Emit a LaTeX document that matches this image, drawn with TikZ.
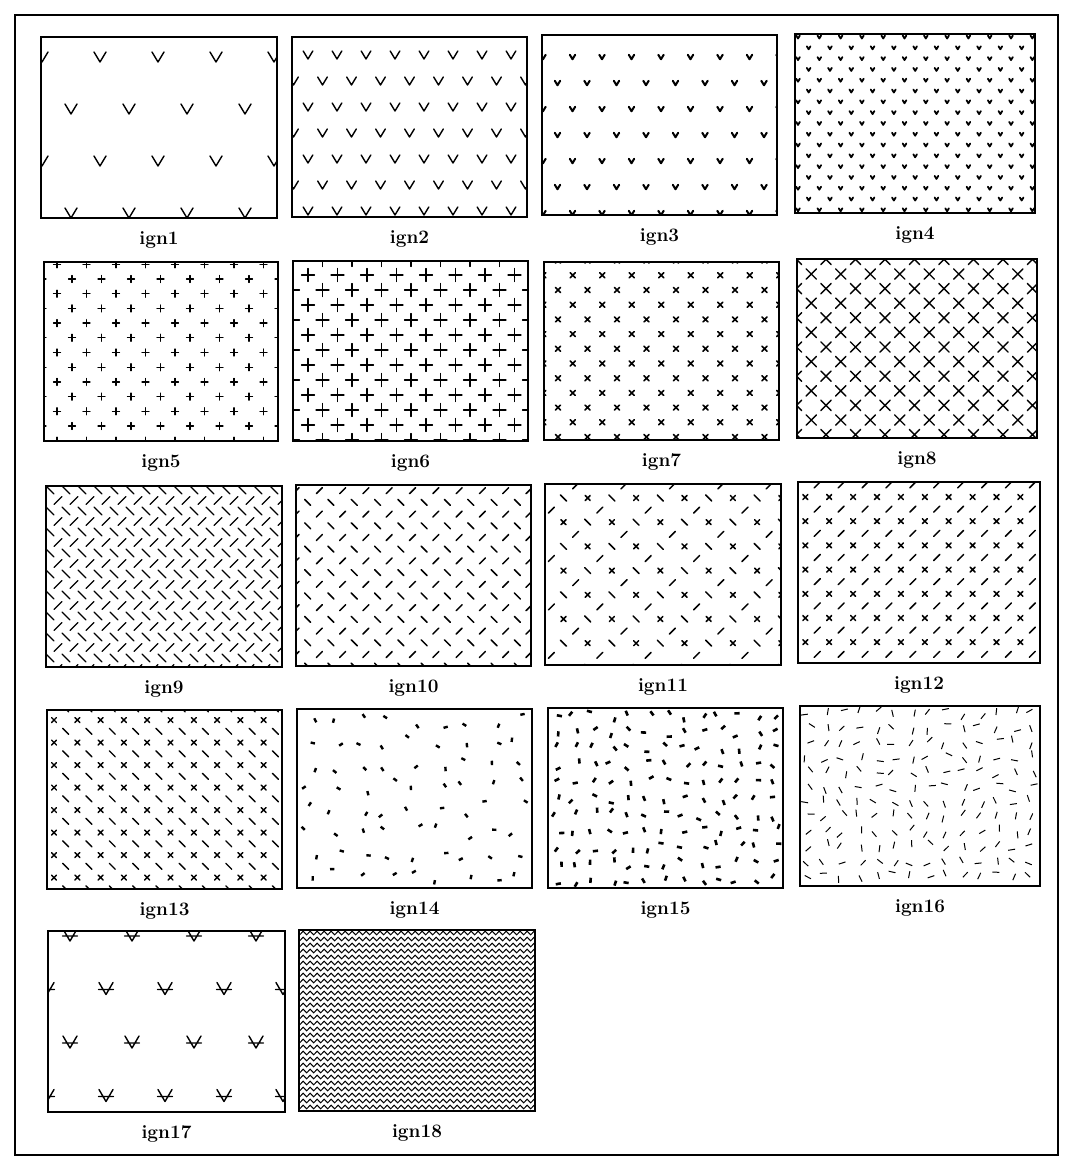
\documentclass[tikz,border=0pt]{standalone}
\usepackage{fontspec}
\usepackage{tikz}
\usetikzlibrary{positioning,decorations.pathmorphing}
\tikzset{
  patbox/.style={draw=black, line width=1.5pt, inner sep=0pt, outer sep=0pt},
  patlab/.style={font=\fontsize{19}{22}\selectfont\bfseries, inner sep=0pt},
  patmark/.style={line cap=round, line join=round},
  vee/.pic={\draw[patmark] (-6,-5) -- (0,5) -- (6,-5);},
  veebar/.pic={\draw[patmark] (-7,-6) -- (0,6) -- (7,-6) (-7.5,1) -- (7.5,1);},
  plus/.pic={\draw[patmark] (-1,0) -- (1,0) (0,-1) -- (0,1);},
  cross/.pic={\draw[patmark] (-1,-1) -- (1,1) (-1,1) -- (1,-1);},
  bsl/.pic={\draw[patmark] (-1,-1) -- (1,1);},
  fsl/.pic={\draw[patmark] (-1,1) -- (1,-1);},
}

\begin{document}
\begin{tikzpicture}[x=1pt,y=-1pt]
\useasboundingbox (0,0) rectangle (1072,1167);
\draw[line width=1.3pt] (15,15) rectangle (1058,1155);
% panels and their labels
\foreach \n/\xa/\ya/\xb/\yb in {1/41/37/277/218, 2/292/37/527/217, 3/542/35/777/215, 4/795/34/1035/213,
  5/44/262/278/441, 6/293/261/528/441, 7/544/262/779/440, 8/797/259/1037/438,
  9/46/486/282/667, 10/296/485/531/666, 11/545/484/781/665, 12/798/482/1040/663,
  13/47/710/282/889, 14/297/709/532/888, 15/548/708/783/888, 16/800/706/1040/886,
  17/48/931/285/1112, 18/299/930/535/1111}
{
  \node[patbox, minimum width={(\xb-\xa)*1pt}, minimum height={(\yb-\ya)*1pt}]
    (p\n) at ({(\xa+\xb)/2},{(\ya+\yb)/2}) {};
  \node[patlab, below=13pt of p\n] (l\n) {ign\n};
}
% ign1
\begin{scope}[shift={(p1.north west)}, line width=1.4pt]
\clip (p1.south west) rectangle (p1.north east);
\foreach \j in {0,...,3} \foreach \i in {0,...,4}
  \pic at ({1+29*mod(\j,2)+58*\i},{20+52*\j}) {vee};
\end{scope}
% ign2
\begin{scope}[shift={(p2.north west)}, line width=1.4pt]
\clip (p2.south west) rectangle (p2.north east);
\foreach \j in {0,...,6} \foreach \i in {0,...,8}
  \pic[scale=0.8] at ({16-14.5*mod(\j,2)+29*\i},{18+26*\j}) {vee};
\end{scope}
% ign3
\begin{scope}[shift={(p3.north west)}, line width=2pt]
\clip (p3.south west) rectangle (p3.north east);
\foreach \j in {0,...,6} \foreach \i in {0,...,8}
  \pic[scale=0.45] at ({1+14.5*mod(\j,2)+29.5*\i},{22+26*\j}) {vee};
\end{scope}
% ign4
\begin{scope}[shift={(p4.north west)}, line width=1.8pt]
\clip (p4.south west) rectangle (p4.north east);
\foreach \j in {0,...,16} \foreach \i in {0,...,11}
  \pic[scale=0.3] at ({3+10.65*mod(\j,2)+21.3*\i},{3+10.8*\j}) {vee};
\end{scope}
% ign5
\begin{scope}[shift={(p5.north west)}, line width=1.3pt]
\clip (p5.south west) rectangle (p5.north east);
\foreach \k in {0,...,12} \foreach \i in {0,...,8}
  \pic[scale=3.5] at ({13-14.5*mod(\k,2)+29.5*\i},{2.3+14.7*\k}) {plus};
\end{scope}
% ign6
\begin{scope}[shift={(p6.north west)}, line width=1.3pt]
\clip (p6.south west) rectangle (p6.north east);
\foreach \k in {0,...,12} \foreach \i in {0,...,8}
  \pic[scale=6.5] at ({15*mod(\k,2)+29.5*\i},{-1+15*\k}) {plus};
\end{scope}
% ign7
\begin{scope}[shift={(p7.north west)}, line width=1.6pt]
\clip (p7.south west) rectangle (p7.north east);
\foreach \k in {0,...,12} \foreach \i in {0,...,8}
  \pic[scale=2.5] at ({14-14.75*mod(\k,2)+29.5*\i},{-1.4+14.7*\k}) {cross};
\end{scope}
% ign8
\begin{scope}[shift={(p8.north west)}, line width=1.4pt]
\clip (p8.south west) rectangle (p8.north east);
\foreach \k in {0,...,12} \foreach \i in {0,...,8}
  \pic[scale=5.2] at ({-0.5+14.75*mod(\k,2)+29.5*\i},{0.4+14.6*\k}) {cross};
\end{scope}
% ign9
\begin{scope}[shift={(p9.north west)}, line width=1.3pt]
\clip (p9.south west) rectangle (p9.north east);
\foreach \j in {0,2,...,16} \foreach \i in {0,...,15}
  \pic[scale=4] at ({4+16*\i},{4+10.5*\j}) {bsl};
\foreach \j in {1,3,...,17} \foreach \i in {0,...,15}
  \pic[scale=4] at ({12+16*\i},{4+10.5*\j}) {fsl};
\end{scope}
% ign10
\begin{scope}[shift={(p10.north west)}, line width=1.5pt]
\clip (p10.south west) rectangle (p10.north east);
\foreach \j in {0,2,...,14} \foreach \i in {0,...,10}
  \pic[scale=3] at ({23.3*\i},{5.7+11.7*\j}) {fsl};
\foreach \j in {1,3,...,15} \foreach \i in {0,...,10}
  \pic[scale=3] at ({11.65+23.3*\i},{5.7+11.7*\j}) {bsl};
\end{scope}
% ign11
\begin{scope}[shift={(p11.north west)}, line width=1.5pt]
\clip (p11.south west) rectangle (p11.north east);
\foreach \r in {0,...,7} \foreach \c in {-1,...,9} {
  \pgfmathtruncatemacro{\pty}{mod(\r+\c+20,2)}
  \ifnum\pty=0
    \pic[scale=3] at ({18.5+24.2*\c},{14+24.2*\r}) {bsl};
    \pic[scale=3] at ({30.6+24.2*\c},{1.9+24.2*\r}) {fsl};
  \else
    \pic[scale=2.5] at ({18.5+24.2*\c},{14+24.2*\r}) {cross};
  \fi
}
\end{scope}
% ign12
\begin{scope}[shift={(p12.north west)}, line width=1.5pt]
\clip (p12.south west) rectangle (p12.north east);
\foreach \r in {0,...,6} \foreach \c in {0,...,9}
  \pic[scale=2.5] at ({7.3+23.9*\c},{15+24.2*\r}) {cross};
\foreach \r in {-1,...,6} \foreach \c in {-1,...,9}
  \pic[scale=3] at ({19.25+23.9*\c},{27.1+24.2*\r}) {fsl};
\end{scope}
% ign13
\begin{scope}[shift={(p13.north west)}, line width=1.4pt]
\clip (p13.south west) rectangle (p13.north east);
\foreach \r in {0,...,7} \foreach \c in {0,...,9}
  \pic[scale=2.5] at ({7+23.3*\c},{10+22.5*\r}) {cross};
\foreach \r in {-1,...,7} \foreach \c in {-1,...,9}
  \pic[scale=3] at ({18.65+23.3*\c},{21.25+22.5*\r}) {bsl};
\end{scope}
% ign14
\begin{scope}[shift={(p14.north west)}, line width=2.4pt]
\clip (p14.south west) rectangle (p14.north east);
\pgfmathsetseed{11}
\foreach \j in {0,...,7} \foreach \i in {0,...,8} {
  \pgfmathsetmacro{\px}{13+26*\i+8*rand}
  \pgfmathsetmacro{\py}{11+22.3*\j+8*rand}
  \pgfmathsetmacro{\pa}{180*rnd}
  \draw (\px,\py) ++(\pa:-2.2) -- ++(\pa:4.4);
}
\end{scope}
% ign15
\begin{scope}[shift={(p15.north west)}, line width=2.6pt]
\clip (p15.south west) rectangle (p15.north east);
\pgfmathsetseed{5}
\foreach \j in {0,...,10} \foreach \i in {0,...,12} {
  \pgfmathsetmacro{\px}{9+18.1*\i+5*rand}
  \pgfmathsetmacro{\py}{8+16.4*\j+5*rand}
  \pgfmathsetmacro{\pa}{180*rnd}
  \draw (\px,\py) ++(\pa:-2.6) -- ++(\pa:5.2);
}
\end{scope}
% ign16
\begin{scope}[shift={(p16.north west)}, line width=1pt]
\clip (p16.south west) rectangle (p16.north east);
\pgfmathsetseed{3}
\foreach \j in {0,...,11} \foreach \i in {0,...,13} {
  \pgfmathsetmacro{\px}{8+17.2*\i+4*rand}
  \pgfmathsetmacro{\py}{7+14.8*\j+4*rand}
  \pgfmathsetmacro{\pa}{180*rnd}
  \draw (\px,\py) ++(\pa:-3.5) -- ++(\pa:7);
}
\end{scope}
% ign17
\begin{scope}[shift={(p17.north west)}, line width=1.4pt]
\clip (p17.south west) rectangle (p17.north east);
\foreach \j in {0,2} \foreach \i in {0,...,3}
  \pic at ({22+62*\i},{4+53.5*\j}) {veebar};
\foreach \j in {1,3} \foreach \i in {0,...,4}
  \pic at ({-1+59*\i},{4+53.5*\j}) {veebar};
\end{scope}
% ign18
\begin{scope}[shift={(p18.north west)}, line width=1pt]
\clip (p18.south west) rectangle (p18.north east);
\foreach \j in {0,...,29}
  \draw[decorate, decoration={snake, segment length=7pt, amplitude=1.8pt}]
    (-5,{3+6*\j}) -- (245,{3+6*\j});
\end{scope}
\end{tikzpicture}
\end{document}
